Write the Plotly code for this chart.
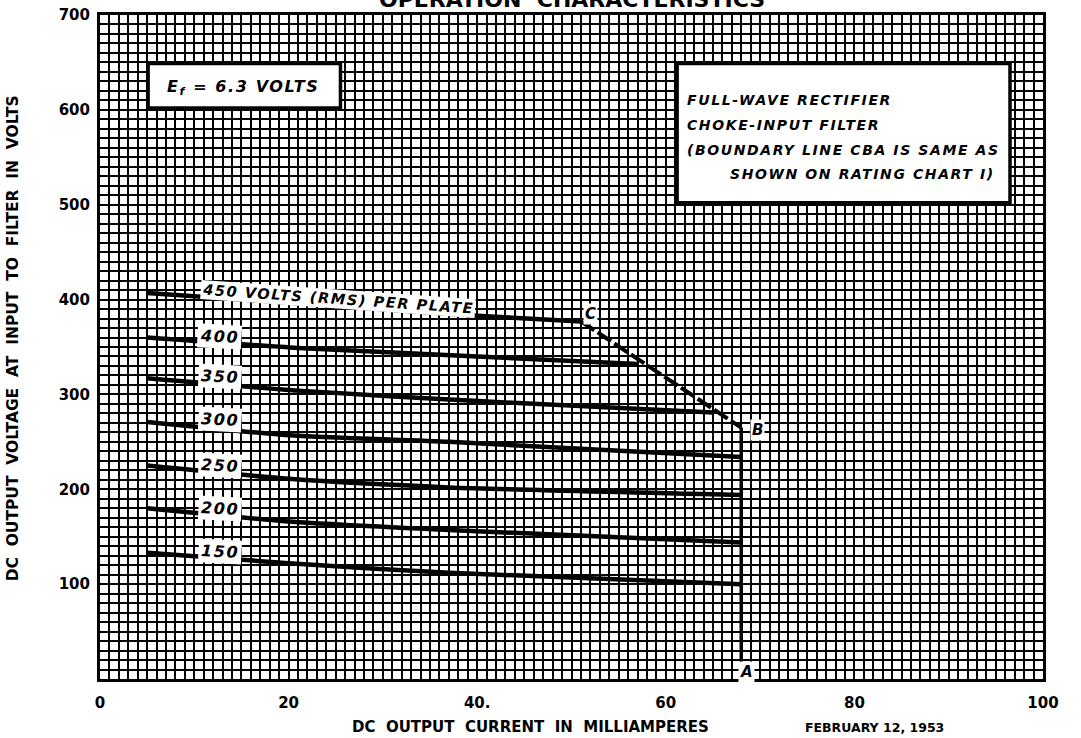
import plotly.graph_objects as go

# ---- data ----
current_450 = [5, 21, 40, 51]
volts_450 = [407, 396, 383, 377]
current_400 = [5, 21, 40, 57]
volts_400 = [360, 349, 340, 332]
current_350 = [5, 21, 42, 65]
volts_350 = [317, 304, 292, 281]
current_300 = [5, 20, 37, 68]
volts_300 = [271, 257, 250, 234]
current_250 = [5, 20, 37, 68]
volts_250 = [225, 211, 202, 194]
current_200 = [5, 20, 37, 68]
volts_200 = [180, 166, 157, 144]
current_150 = [5, 20, 37, 68]
volts_150 = [133, 122, 112, 100]

curve_names = ["450", "400", "350", "300", "250", "200", "150"]
curve_currents = [current_450, current_400, current_350, current_300,
                  current_250, current_200, current_150]
curve_volts = [volts_450, volts_400, volts_350, volts_300,
               volts_250, volts_200, volts_150]

boundary_cb_current = [51, 68]
boundary_cb_volts = [377, 265]
boundary_ba_current = [68, 68]
boundary_ba_volts = [265, 0]

x_tick_vals = [0, 20, 40, 60, 80, 100]
x_tick_text = ["0", "20", "40.", "60", "80", "100"]
y_tick_vals = [100, 200, 300, 400, 500, 600, 700]
y_tick_text = ["100", "200", "300", "400", "500", "600", "700"]

LETTER = "DejaVu Sans"
LS = '<span style="letter-spacing:1.6px">{}</span>'

fig = go.Figure()
for name, xs, ys in zip(curve_names, curve_currents, curve_volts):
    fig.add_trace(go.Scatter(x=xs, y=ys, mode="lines", name=name,
                             line=dict(color="black", width=4.5, shape="spline", smoothing=0.6),
                             showlegend=False, hoverinfo="skip"))

fig.add_trace(go.Scatter(x=boundary_cb_current, y=boundary_cb_volts, mode="lines",
                         line=dict(color="black", width=4, dash="16px,4px"),
                         showlegend=False, hoverinfo="skip"))
fig.add_trace(go.Scatter(x=boundary_ba_current, y=boundary_ba_volts, mode="lines",
                         line=dict(color="black", width=3.5),
                         showlegend=False, hoverinfo="skip"))

# boxes
fig.add_shape(type="rect", x0=5.1, x1=25.5, y0=602, y1=649, layer="above",
              line=dict(color="black", width=3.5), fillcolor="white")
fig.add_shape(type="rect", x0=61.2, x1=96.5, y0=502, y1=649, layer="above",
              line=dict(color="black", width=3.5), fillcolor="white")

ann = []
ital = dict(family=LETTER, size=14, color="black", weight="bold", style="italic")

ann.append(dict(x=6.9, y=624, xanchor="left", yanchor="middle", showarrow=False,
                text=LS.format("E<sub>f</sub> = 6.3 VOLTS"),
                font=dict(ital, size=16)))

box_lines = [("FULL-WAVE RECTIFIER", 62.0, 610),
             ("CHOKE-INPUT FILTER", 62.0, 584),
             ("(BOUNDARY LINE CBA IS SAME AS", 62.0, 558),
             ("SHOWN ON RATING CHART I)", 66.6, 532)]
for t, xx, yy in box_lines:
    ann.append(dict(x=xx, y=yy, xanchor="left", yanchor="middle", showarrow=False,
                    text=LS.format(t), font=ital))

ann.append(dict(x=25.2, y=401, showarrow=False, textangle=4, bgcolor="white", borderpad=1,
                text=LS.format("450 VOLTS (RMS) PER PLATE"), font=dict(ital, size=14.5)))
for name, yy in zip(curve_names[1:], [361, 319, 274, 225, 180, 134]):
    ann.append(dict(x=12.7, y=yy, showarrow=False, textangle=3, bgcolor="white", borderpad=2,
                    text=LS.format(name), font=dict(ital, size=16)))

for t, xx, yy in [("C", 52, 385), ("B", 69.7, 263), ("A", 68.6, 7)]:
    ann.append(dict(x=xx, y=yy, showarrow=False, bgcolor="white", borderpad=1,
                    text=t, font=dict(ital, size=15)))

ann.append(dict(xref="paper", yref="paper", x=0.5, y=1, yanchor="middle", yshift=16,
                showarrow=False, text="<b>OPERATION  CHARACTERISTICS</b>",
                font=dict(family=LETTER, size=22, color="black")))
ann.append(dict(xref="paper", yref="paper", x=0.457, y=0, yanchor="middle", yshift=-48,
                showarrow=False, text="<b>DC  OUTPUT  CURRENT  IN  MILLIAMPERES</b>",
                font=dict(family=LETTER, size=15, color="black")))
ann.append(dict(xref="paper", yref="paper", x=0.897, y=0, yanchor="middle", yshift=-48,
                showarrow=False, text="<b>FEBRUARY 12, 1953</b>",
                font=dict(family=LETTER, size=12.5, color="black")))
ann.append(dict(xref="paper", yref="paper", x=0, y=0.513, xanchor="center", xshift=-87,
                showarrow=False, textangle=-90,
                text="<b>DC  OUTPUT  VOLTAGE  AT  INPUT  TO  FILTER  IN  VOLTS</b>",
                font=dict(family=LETTER, size=15.5, color="black")))

grid = dict(showgrid=True, gridcolor="black", gridwidth=1.8)
fig.update_layout(
    width=1081, height=738,
    margin=dict(l=100, r=38, t=15, b=59, autoexpand=False),
    paper_bgcolor="white", plot_bgcolor="white",
    annotations=ann,
    xaxis=dict(range=[0, 100], tickmode="array", tickvals=x_tick_vals, ticktext=x_tick_text,
               ticks="", ticklabelstandoff=8, showline=True, mirror=True, linecolor="black",
               linewidth=3, zeroline=False, automargin=False,
               tickfont=dict(family=LETTER, size=15, color="black", weight="bold"),
               minor=dict(tickmode="linear", tick0=0, dtick=1, **grid), **grid),
    yaxis=dict(range=[0, 700], tickmode="array", tickvals=y_tick_vals, ticktext=y_tick_text,
               ticks="", ticklabelstandoff=4, showline=True, mirror=True, linecolor="black",
               linewidth=3, zeroline=False, automargin=False,
               tickfont=dict(family=LETTER, size=15, color="black", weight="bold"),
               minor=dict(tickmode="linear", tick0=0, dtick=10, **grid), **grid),
)

fig.write_html("out.html", config={"displayModeBar": False},
               post_script="document.body.style.margin='0';document.body.style.overflow='hidden';")
